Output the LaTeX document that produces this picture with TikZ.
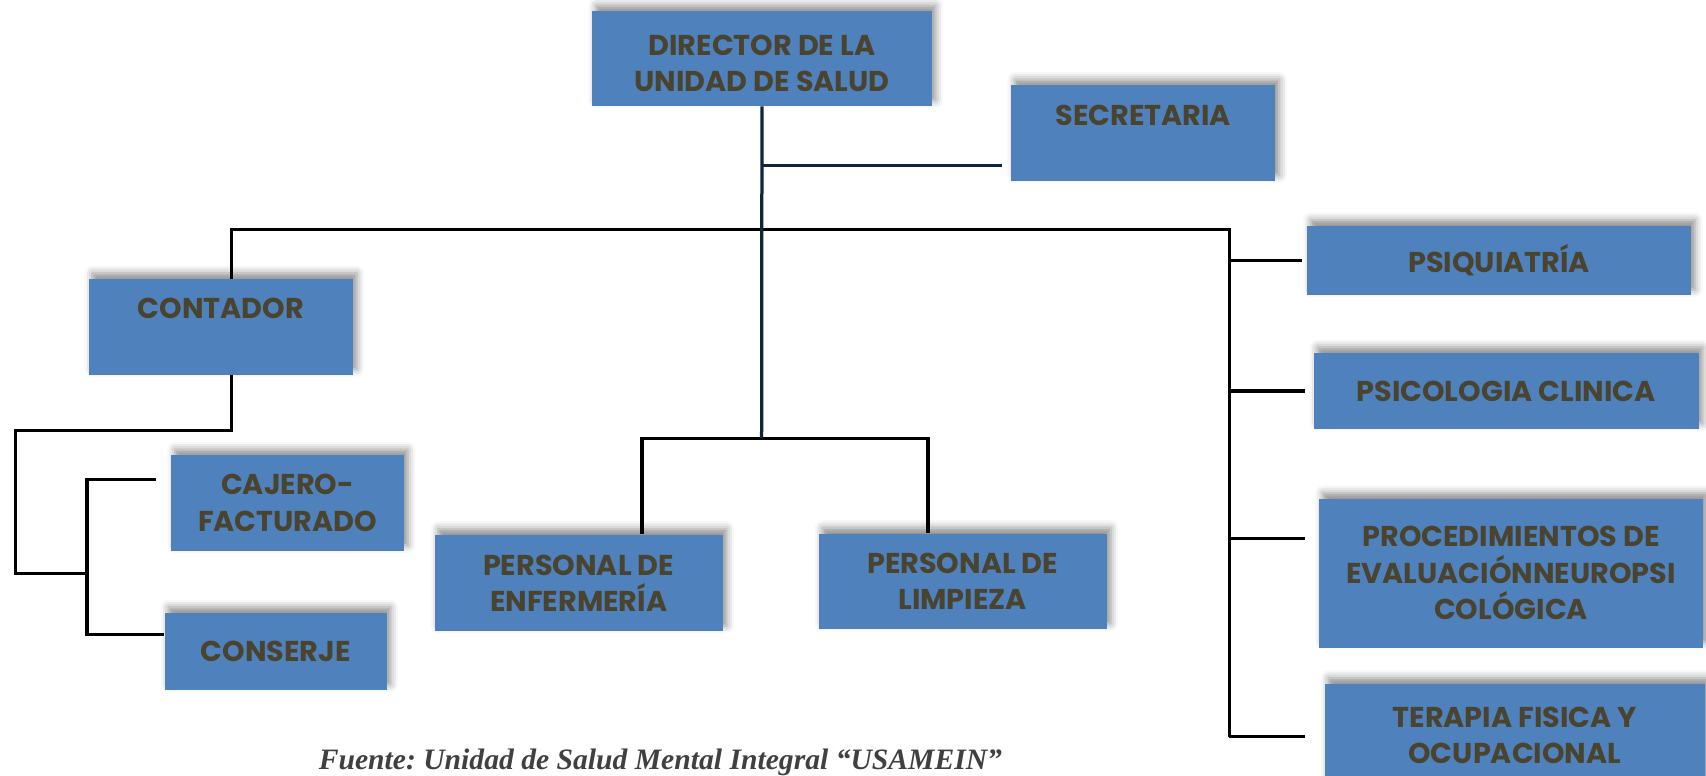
\documentclass[tikz,border=0pt]{standalone}
\usepackage{fontspec}
\usetikzlibrary{shadows.blur}
\setmainfont{Liberation Serif}
\newfontfamily\boxfont{Poppins}
\frenchspacing

\definecolor{boxblue}{RGB}{79,129,189}
\definecolor{boxtext}{RGB}{74,67,46}
\definecolor{navyline}{RGB}{16,36,62}
\definecolor{capgray}{RGB}{64,64,64}

\tikzset{
  unitbox/.style={anchor=north west, fill=boxblue, text=boxtext, inner sep=0pt,
    align=center, font=\boxfont\bfseries\fontsize{15}{19}\selectfont,
    blur shadow={shadow xshift=2pt, shadow yshift=3pt, shadow blur radius=4pt, shadow opacity=45}},
  boxsize/.style 2 args={minimum width=#1, minimum height=#2},
  link/.style={line width=1.7pt, draw=black},
}

\begin{document}
\begin{tikzpicture}[x=0.02cm,y=-0.02cm]
    \useasboundingbox (0,0) rectangle (1568,713);
    % boxes
    \node[unitbox, boxsize={6.24cm}{1.74cm}] (dir) at (544,10) {\rule{0pt}{16pt}DIRECTOR DE LA\\UNIDAD DE SALUD};
    \node[unitbox, boxsize={4.86cm}{1.76cm}] (sec) at (929,78) {SECRETARIA\\ ~};
    \node[unitbox, boxsize={4.86cm}{1.76cm}] (con) at (81,256) {CONTADOR\\ ~};
    \node[unitbox, boxsize={4.28cm}{1.76cm}] (caj) at (157,418) {CAJERO-\\FACTURADO};
    \node[unitbox, boxsize={4.08cm}{1.42cm}] (cons) at (151,563) {CONSERJE};
    \node[unitbox, boxsize={5.30cm}{1.78cm}] (enf) at (399,491) {PERSONAL DE\\ENFERMERÍA};
    \node[unitbox, boxsize={5.30cm}{1.76cm}] (lim) at (752,490) {PERSONAL DE\\LIMPIEZA};
    \node[unitbox, boxsize={7.06cm}{1.28cm}] (psiq) at (1201,207) {PSIQUIATRÍA};
    \node[unitbox, boxsize={7.08cm}{1.40cm}] (psic) at (1207,324) {PSICOLOGIA CLINICA};
    \node[unitbox, boxsize={7.06cm}{2.74cm}] (proc) at (1212,458) {PROCEDIMIENTOS DE\\EVALUACIÓNNEUROPSI\\COLÓGICA};
    \node[unitbox, boxsize={7.00cm}{1.90cm}] (ter) at (1217,628) {TERAPIA FISICA Y\\OCUPACIONAL};

    % joints
    \coordinate (secjoin) at (700,152);
    \coordinate (secend) at (921,152);
    \coordinate (fork) at (700,211);
    \coordinate (split) at (700,403);
    \coordinate (rtop) at (1130,211);
    \coordinate (rbot) at (1130,677);
    \coordinate (lcorner) at (14,396);
    \coordinate (ljoin) at (80,527);
    \coordinate (cajend) at (143,441);
    \coordinate (consend) at (151,583);
    \coordinate (enftop) at (590,491);
    \coordinate (limtop) at (853,490);

    % lines
    \draw[link] ([xshift=0.2cm]con.north) |- (rtop) -- (rbot);
    \draw[link] (rtop |- psiq.west) -- ([xshift=-0.08cm]psiq.west);
    \draw[link] (rtop |- psic.west) -- ([xshift=-0.16cm]psic.west);
    \draw[link] ([yshift=0.64cm]rtop |- proc.west) -- ([xshift=-0.26cm, yshift=0.64cm]proc.west);
    \draw[link] (rbot) -- ([xshift=-0.36cm]rbot -| ter.west);
    \draw[link] ([xshift=0.2cm]con.south) |- (lcorner) |- (ljoin);
    \draw[link] (cajend) -| (ljoin |- consend) -- (consend);
    \draw[link] (enftop) |- (split) -| (limtop);
    \draw[link, draw=navyline] (dir.south) -- (split);
    \draw[link, draw=navyline] (secjoin) -- (secend);

    % source
    \node[anchor=base, text=capgray, font=\bfseries\itshape\fontsize{15.5}{18}\selectfont] (src) at (607,707)
        {Fuente: Unidad de Salud Mental Integral “USAMEIN”};
\end{tikzpicture}
\end{document}
